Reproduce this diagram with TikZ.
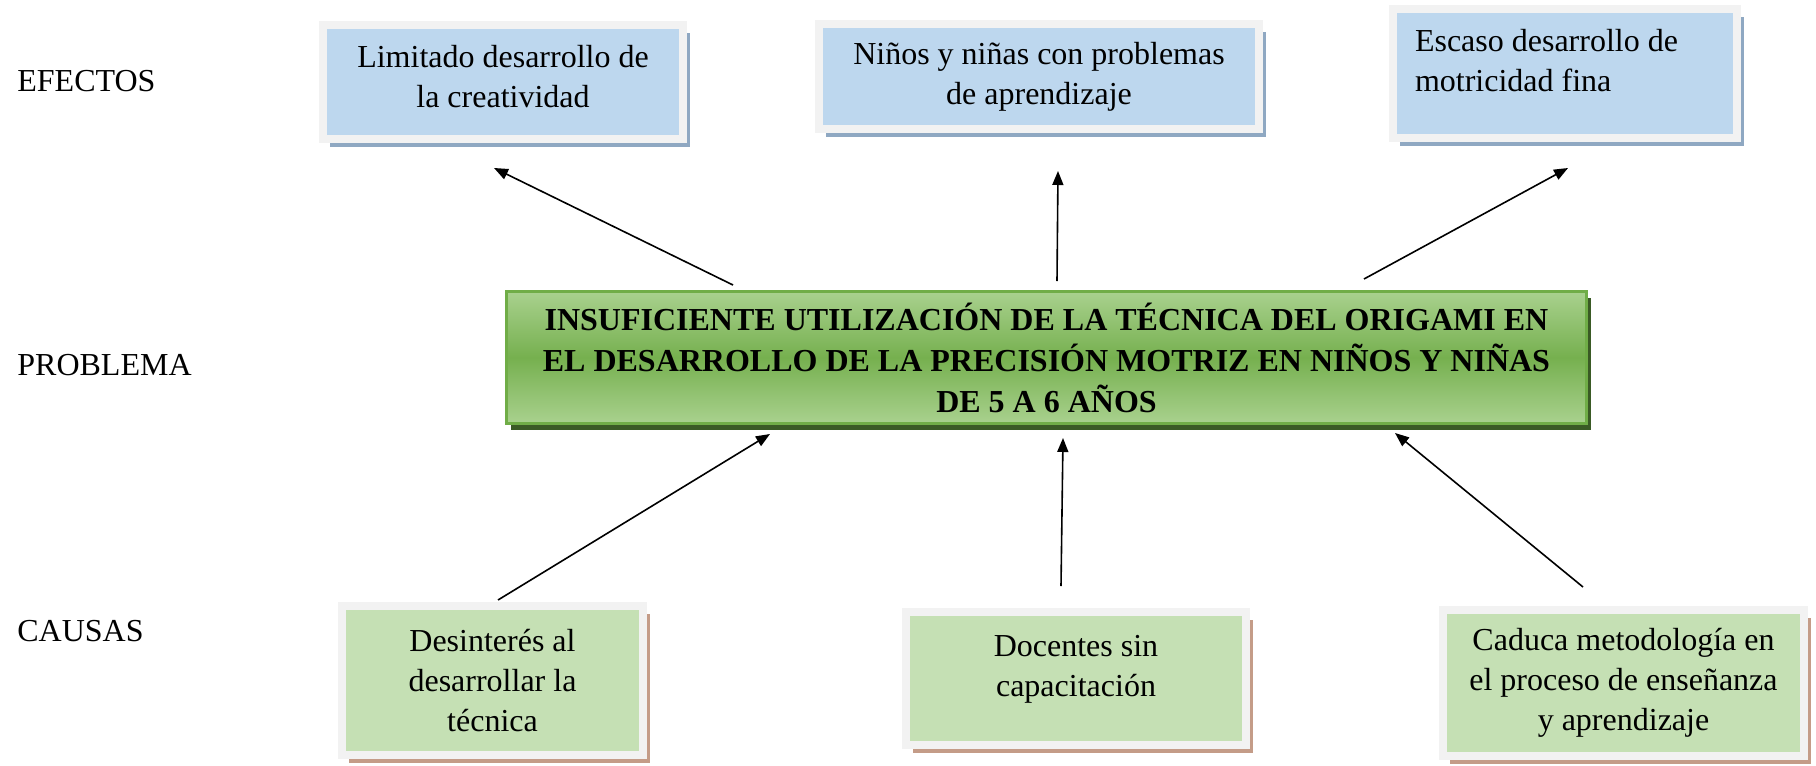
\documentclass[tikz,border=0pt]{standalone}
\usepackage{fontspec}
\setmainfont{Liberation Serif}
\usetikzlibrary{shadows,arrows.meta}
\definecolor{effblue}{HTML}{BDD7EE}
\definecolor{effshadow}{HTML}{8FA8C2}
\definecolor{framegray}{HTML}{F2F2F2}
\definecolor{causegreen}{HTML}{C5E0B4}
\definecolor{causeshadow}{HTML}{C49C88}
\definecolor{problight}{HTML}{A9D18E}
\definecolor{probmid}{HTML}{76B04F}
\definecolor{probborder}{HTML}{70AD47}
\definecolor{probshadow}{HTML}{3A5A25}
\begin{document}
\begin{tikzpicture}[x=0.5pt,y=-0.5pt,
  every node/.style={font=\fontsize{16}{20}\selectfont, inner sep=0pt, align=center},
  rowlabel/.style={anchor=west},
  effbox/.style={rectangle, fill=effblue, draw=framegray, line width=4pt,
    general shadow={fill=effshadow, shadow xshift=3.5pt, shadow yshift=-4pt}},
  causebox/.style={rectangle, fill=causegreen, draw=framegray, line width=4pt,
    general shadow={fill=causeshadow, shadow xshift=3.5pt, shadow yshift=-4pt}},
  probbox/.style={rectangle, top color=problight, bottom color=problight, middle color=probmid,
    draw=probborder, line width=1.5pt,
    general shadow={fill=probshadow, shadow xshift=2.25pt, shadow yshift=-3.25pt},
    font=\fontsize{16}{20.5}\selectfont\bfseries},
  link/.style={line width=0.8pt, -{Triangle[length=7pt,width=5.5pt]}}
]
\useasboundingbox (0,0) rectangle (1816,766);

% row labels
\node[rowlabel] (lef) at (17,81) {EFECTOS};
\node[rowlabel] (lpr) at (17,365) {PROBLEMA};
\node[rowlabel] (lca) at (17,631) {CAUSAS};

% effects
\node[effbox, minimum width=180pt, minimum height=57pt, text depth=6pt] (e1) at (503,82)
  {Limitado desarrollo de\\la creatividad};
\node[effbox, minimum width=220pt, minimum height=52.5pt] (e2) at (1039,76.5)
  {Niños y niñas con problemas\\de aprendizaje};
\node[effbox, minimum width=172pt, minimum height=64.5pt, align=flush left, text width=150pt, text depth=33pt] (e3) at (1565,73.5)
  {Escaso desarrollo de\\motricidad fina};

% problem
\node[probbox, minimum width=540pt, minimum height=66pt] (p) at (1046.5,357.5)
  {INSUFICIENTE UTILIZACIÓN DE LA TÉCNICA DEL ORIGAMI EN\\EL DESARROLLO DE LA PRECISIÓN MOTRIZ EN NIÑOS Y NIÑAS\\DE 5 A 6 AÑOS};

% causes
\node[causebox, minimum width=150.5pt, minimum height=74.5pt] (c1) at (492.5,680.5)
  {Desinterés al\\desarrollar la\\técnica};
\node[causebox, minimum width=170pt, minimum height=66.5pt, text depth=12.5pt] (c2) at (1076,678.5)
  {Docentes sin\\capacitación};
\node[causebox, minimum width=180.5pt, minimum height=73pt] (c3) at (1623.5,683)
  {Caduca metodología en\\el proceso de enseñanza\\y aprendizaje};

% connector end points
\coordinate (pe1) at (733,285);
\coordinate (te1) at (494,168);
\coordinate (pe2) at (1057,281);
\coordinate (te2) at (1058,171);
\coordinate (pe3) at (1364,279);
\coordinate (te3) at (1568,168);
\coordinate (fc1) at (498,600);
\coordinate (tc1) at (770,434);
\coordinate (fc2) at (1061,586);
\coordinate (tc2) at (1063,438);
\coordinate (fc3) at (1583,587);
\coordinate (tc3) at (1395,433);

\draw[link] (pe1) -- (te1);
\draw[link] (pe2) -- (te2);
\draw[link] (pe3) -- (te3);
\draw[link] (fc1) -- (tc1);
\draw[link] (fc2) -- (tc2);
\draw[link] (fc3) -- (tc3);
\end{tikzpicture}
\end{document}
